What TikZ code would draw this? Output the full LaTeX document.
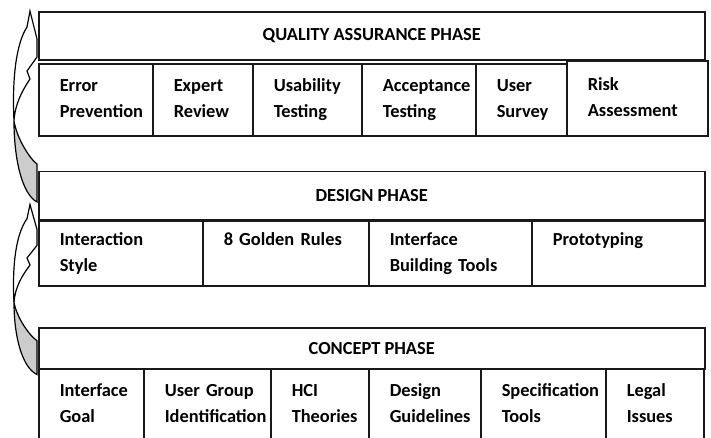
\documentclass[tikz,border=0pt]{standalone}
\usepackage{fontspec}
\setmainfont{Carlito}
\usetikzlibrary{positioning,calc}

\newcommand\boxfont{\bfseries\fontsize{18.4}{26}\selectfont}
\newcommand\cellstrut{\rule[-5pt]{0pt}{20pt}}

\tikzset{
  phase/.style={draw=black!90, line width=1.5pt, minimum width=666pt,
    minimum height=48pt, inner sep=0pt, font=\boxfont},
  cell/.style={draw=black!90, line width=1.5pt, anchor=north west,
    align=left, inner xsep=21pt, inner ysep=0pt, text width=#1,
    font=\boxfont, execute at begin node=\cellstrut,
    execute at end node=\cellstrut},
  arrowline/.style={draw=black, line width=1.2pt},
}

% curved block arrow: tail at the lower phase, head at the upper one
\newcommand\phasearrow[2]{%
  \begin{scope}[shift={#1}, yscale=#2]
    % back face near the tail
    \draw[arrowline, fill=black!20] (-24,110) .. controls (-24,148) and (-16,183) .. (-1,191)
      -- (-1,153) .. controls (-8,148) and (-21,128) .. cycle;
    % front face with the head
    \draw[arrowline, fill=white] (-24,110) .. controls (-26,68) and (-22,33) .. (-11,16)
      -- (-8,0) -- (-1,28) -- (-1,46) -- (-11,60) -- (-8,68)
      .. controls (-16,80) and (-23,93) .. cycle;
  \end{scope}}

\begin{document}
\begin{tikzpicture}[x=1pt, y=-1pt]
  \clip (0,0) rectangle (711,437);

  % phase headers
  \node[phase, anchor=north west] (qa) at (38,11) {QUALITY ASSURANCE PHASE};
  \node[phase, below=110pt of qa] (design) {DESIGN PHASE};
  \node[phase, below=107pt of design, minimum height=41pt] (concept) {CONCEPT PHASE};

  % quality assurance activities
  \foreach \a/\b/\txt [count=\i] in {38/152/{Error\\Prevention}, 152/252/{Expert\\Review},
      252/361/{Usability\\Testing}, 361/475/{Acceptance\\Testing}, 475/566/{User\\Survey}}{
    \pgfmathsetmacro\tw{\b-\a-42}
    \node[cell=\tw pt, minimum height=72pt] (qa-\i) at (\a,63) {\txt};
  }
  \node[cell=99pt, minimum height=75pt] (qa-6) at (566,60) {Risk\\Assessment};

  % design activities
  \foreach \a/\b/\txt [count=\i] in {38/202/{Interaction\\Style}, 202/368/{8~Golden~Rules\\},
      368/531/{Interface\\Building~Tools}, 531/704/{Prototyping\\}}{
    \pgfmathsetmacro\tw{\b-\a-42}
    \node[cell=\tw pt, minimum height=65pt] (design-\i) at (\a,220) {\txt};
  }

  % concept activities
  \foreach \a/\b/\txt [count=\i] in {38/143/{Interface\\Goal}, 143/270/{User~Group\\Identification},
      270/368/{HCI\\Theories}, 368/480/{Design\\Guidelines}, 480/605/{Specification\\Tools},
      605/703/{Legal\\Issues}}{
    \pgfmathsetmacro\tw{\b-\a-42}
    \node[cell=\tw pt, minimum height=72pt] (concept-\i) at (\a,368) {\txt};
  }

  % feedback arrows between the phases
  \phasearrow{(qa.north west)}{1}
  \phasearrow{($(design.north west)+(0,34)$)}{0.89}
\end{tikzpicture}
\end{document}
